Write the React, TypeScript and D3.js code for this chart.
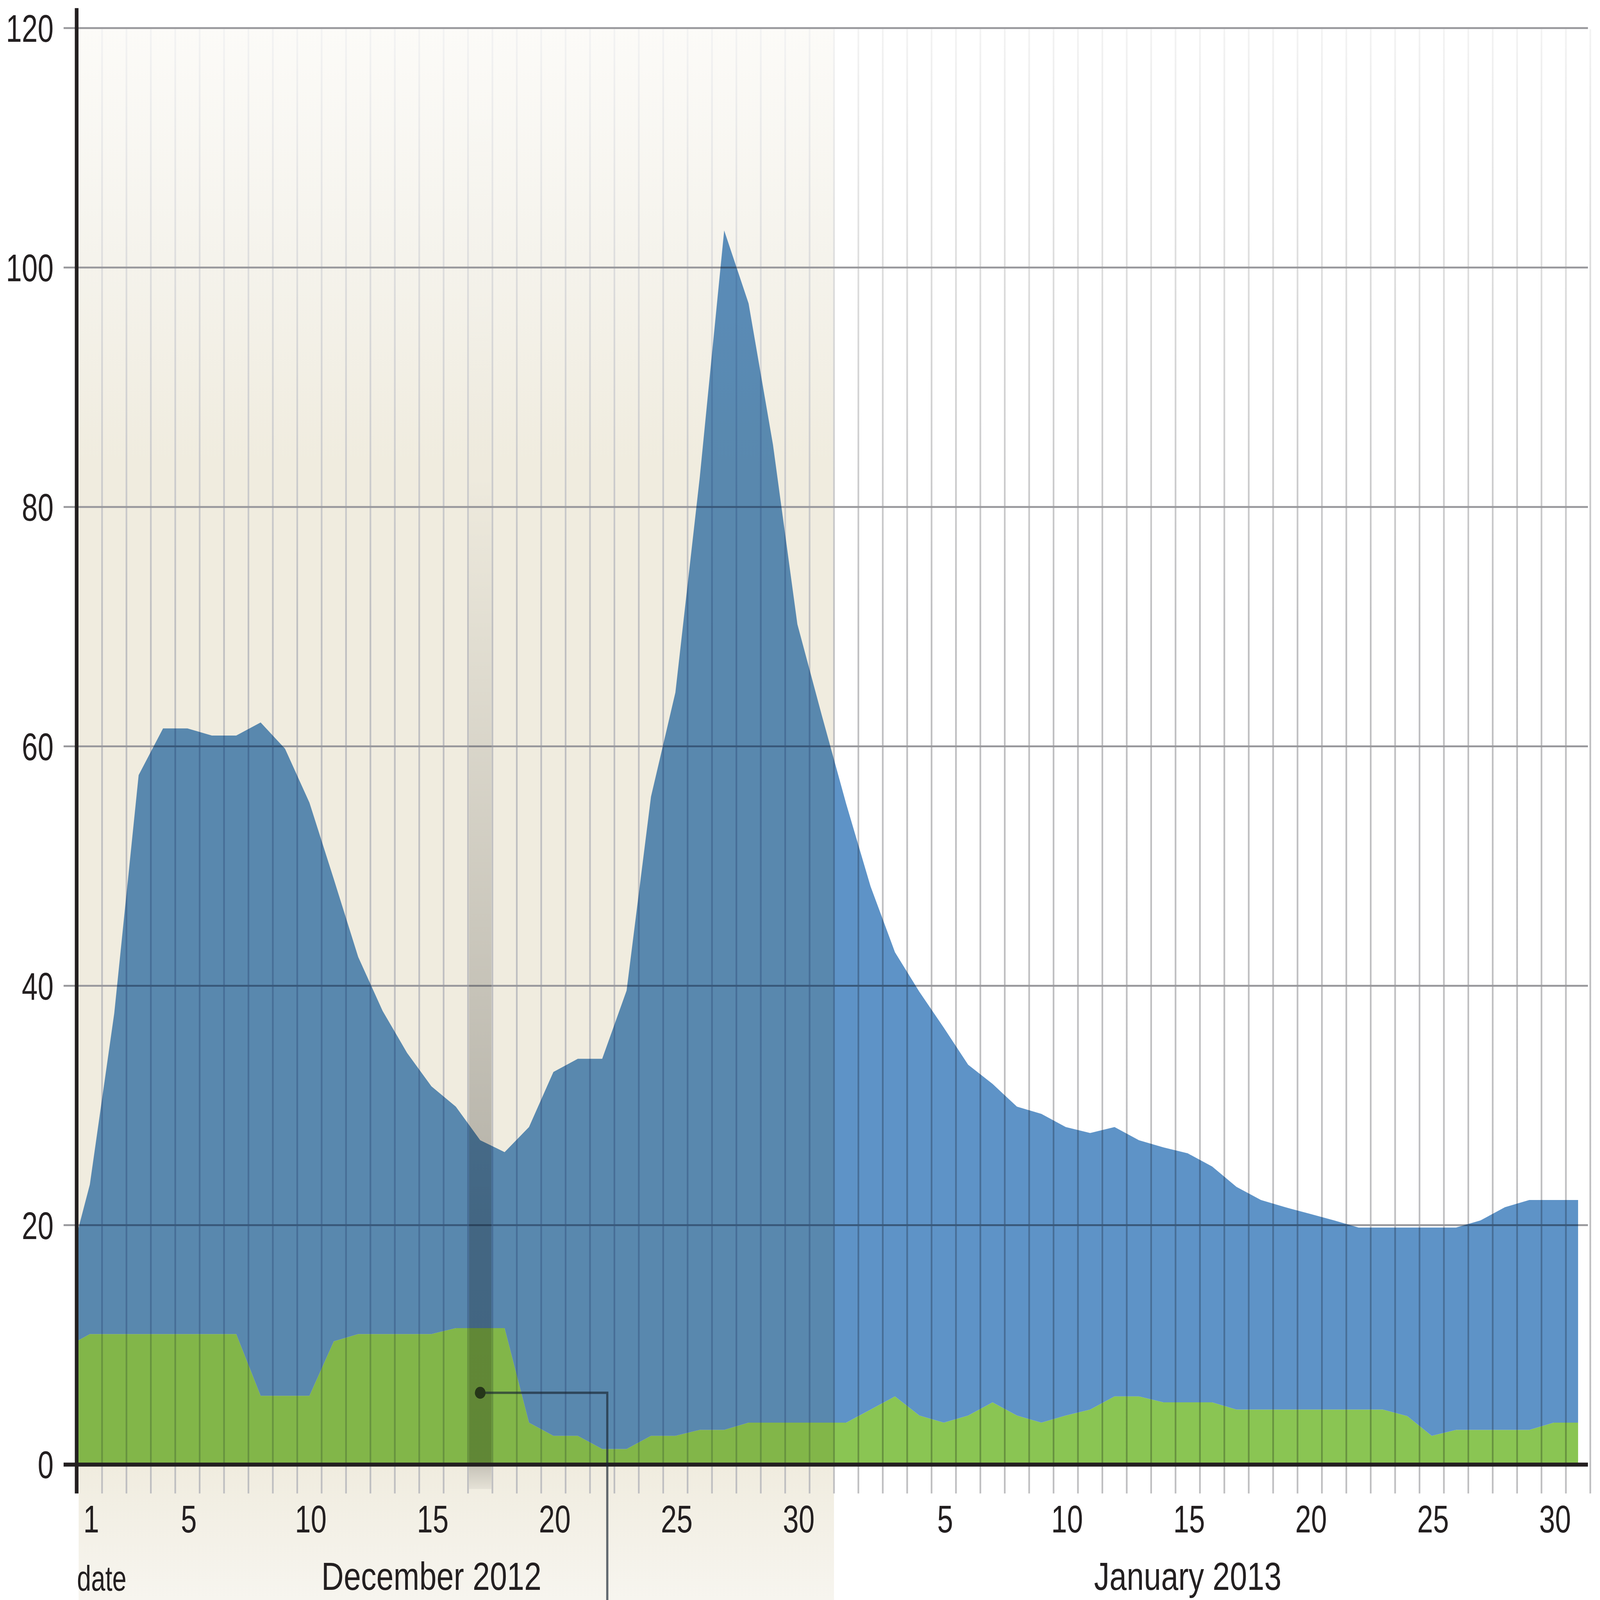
import { scaleUtc, scaleLinear, area as d3area, utcDay } from "d3";

const W = 4780;
const H = 4325;

// y axis ticks and date labels
const yTicks = [0, 20, 40, 60, 80, 100, 120];
const decLabels = [1, 5, 10, 15, 20, 25, 30];
const janLabels = [5, 10, 15, 20, 25, 30];
const months = [
  { label: "December 2012", year: 2012, month: 11 },
  { label: "January 2013", year: 2013, month: 0 },
];

// Nov 30 sits left of the axis, it only shapes the clipped first segment
const leadTotal = 15.6;
const leadGreen = 9.8;

// daily values, Dec 1 .. Dec 31 (top of the blue area)
const totalDec = [
  23.4, 37.7, 57.6, 61.5, 61.5, 60.9, 60.9, 62.0, 59.8, 55.3,
  48.9, 42.4, 37.9, 34.4, 31.6, 29.9, 27.1, 26.1, 28.2, 32.8,
  33.9, 33.9, 39.6, 55.8, 64.5, 82.5, 103.1, 97.0, 85.2, 70.2, 62.6,
];
// Jan 1 .. Jan 31
const totalJan = [
  55.2, 48.3, 42.8, 39.5, 36.5, 33.4, 31.8, 29.9, 29.3, 28.2,
  27.7, 28.2, 27.1, 26.5, 26.0, 24.9, 23.2, 22.1, 21.5, 20.95,
  20.4, 19.8, 19.8, 19.8, 19.8, 19.8, 20.4, 21.5, 22.1, 22.1, 22.1,
];
// green part
const greenDec = [
  10.9, 10.9, 10.9, 10.9, 10.9, 10.9, 10.9, 5.75, 5.75, 5.75,
  10.3, 10.9, 10.9, 10.9, 10.9, 11.4, 11.4, 11.4, 3.5, 2.4,
  2.4, 1.3, 1.3, 2.4, 2.4, 2.9, 2.9, 3.5, 3.5, 3.5, 3.5,
];
const greenJan = [
  3.5, 4.6, 5.7, 4.1, 3.5, 4.1, 5.2, 4.1, 3.5, 4.1,
  4.6, 5.7, 5.7, 5.2, 5.2, 5.2, 4.6, 4.6, 4.6, 4.6,
  4.6, 4.6, 4.6, 4.05, 2.4, 2.9, 2.9, 2.9, 2.9, 3.5, 3.5,
];

// highlighted day and the leader line
const highlightDay = new Date(Date.UTC(2012, 11, 17));
const markerDate = new Date(Date.UTC(2012, 11, 17, 12));
const markerValue = 6.0;
const leaderElbow = new Date(Date.UTC(2012, 11, 22, 17));

type Row = { date: Date; total: number; green: number };

const data: Row[] = [
  { date: new Date(Date.UTC(2012, 10, 30, 12)), total: leadTotal, green: leadGreen },
  ...totalDec.map((v, i) => ({ date: new Date(Date.UTC(2012, 11, i + 1, 12)), total: v, green: greenDec[i] })),
  ...totalJan.map((v, i) => ({ date: new Date(Date.UTC(2013, 0, i + 1, 12)), total: v, green: greenJan[i] })),
];

const start = new Date(Date.UTC(2012, 11, 1));
const end = new Date(Date.UTC(2013, 1, 1));
const decEnd = new Date(Date.UTC(2013, 0, 1));

const FONT = "'Liberation Sans', Arial, sans-serif";
const INK = "#231f20";

// condensed text: regular sans squeezed horizontally
function Narrow(props: {
  x: number;
  y: number;
  size: number;
  squeeze: number;
  anchor?: "start" | "middle" | "end";
  children: React.ReactNode;
}) {
  return (
    <g transform={`translate(${props.x},${props.y}) scale(${props.squeeze},1)`}>
      <text x={0} y={0} fontSize={props.size} textAnchor={props.anchor ?? "start"}>
        {props.children}
      </text>
    </g>
  );
}

export default function App() {
  const x = scaleUtc().domain([start, end]).range([232, 4751]);
  const y = scaleLinear().domain([0, 120]).range([3959, 76]);

  const top = y(120);
  const base = y(0);
  const tickBottom = 4037;
  const gridRight = 4744;

  const greenArea = d3area<Row>()
    .x((d) => x(d.date))
    .y0(base)
    .y1((d) => y(d.green));

  const blueArea = d3area<Row>()
    .x((d) => x(d.date))
    .y0((d) => y(d.green))
    .y1((d) => y(d.total));

  const dayLines = utcDay.range(utcDay.offset(start, 1), utcDay.offset(end, 1));

  const bandX0 = x(highlightDay);
  const bandX1 = x(utcDay.offset(highlightDay, 1));

  const mx = x(markerDate);
  const my = y(markerValue);
  const ex = x(leaderElbow);

  const labelAt = (yr: number, m: number, d: number) => x(new Date(Date.UTC(yr, m, d, 12)));

  return (
    <svg
      viewBox={`0 0 ${W} ${H}`}
      preserveAspectRatio="none"
      style={{ position: "fixed", left: 0, top: 0, width: "100vw", height: "100vh", display: "block", background: "#fff" }}
    >
      <defs>
        <linearGradient id="beige" gradientUnits="userSpaceOnUse" x1="0" x2="0" y1={top} y2={H}>
          <stop offset="0" stopColor="#fcfbf8" />
          <stop offset={(700 - top) / (H - top)} stopColor="#f5f3ec" />
          <stop offset={(1250 - top) / (H - top)} stopColor="#f0ecdf" />
          <stop offset={(base - top) / (H - top)} stopColor="#f0ecdf" />
          <stop offset="1" stopColor="#f7f5ef" />
        </linearGradient>
        <linearGradient id="vline" gradientUnits="userSpaceOnUse" x1="0" x2="0" y1={top} y2={1700}>
          <stop offset="0" stopColor="#f3f3f3" />
          <stop offset="0.45" stopColor="#dadada" />
          <stop offset="1" stopColor="#bfbfc1" />
        </linearGradient>
        <linearGradient id="band" gradientUnits="userSpaceOnUse" x1="0" x2="0" y1={top} y2={base}>
          <stop offset="0" stopColor="#000" stopOpacity="0" />
          <stop offset={(1300 - top) / (base - top)} stopColor="#000" stopOpacity="0.01" />
          <stop offset={(3300 - top) / (base - top)} stopColor="#000" stopOpacity="0.25" />
          <stop offset="1" stopColor="#000" stopOpacity="0.26" />
        </linearGradient>
        <linearGradient id="bandTail" gradientUnits="userSpaceOnUse" x1="0" x2="0" y1={base} y2={4025}>
          <stop offset="0" stopColor="#000" stopOpacity="0.18" />
          <stop offset="1" stopColor="#000" stopOpacity="0.05" />
        </linearGradient>
        <clipPath id="plot">
          <rect x={x(start)} y={0} width={x(end) - x(start)} height={base} />
        </clipPath>
      </defs>

      <rect x={0} y={0} width={W} height={H} fill="#fff" />

      {/* December shading */}
      <rect x={x(start) + 3} y={top} width={x(decEnd) - x(start) - 3} height={H - top} fill="url(#beige)" />

      {/* day grid lines with ticks below the axis */}
      {dayLines.map((d, i) => (
        <line
          key={i}
          x1={x(d)}
          x2={x(d)}
          y1={top + 3}
          y2={tickBottom}
          stroke="url(#vline)"
          strokeWidth={5}
        />
      ))}

      {/* horizontal grid */}
      {yTicks.filter((t) => t > 0).map((t) => (
        <line key={t} x1={190} x2={gridRight} y1={y(t)} y2={y(t)} stroke="#98989c" strokeWidth={5} />
      ))}

      {/* areas */}
      <g clipPath="url(#plot)" style={{ mixBlendMode: "multiply" }}>
        <path d={greenArea(data) ?? undefined} fill="#8ac553" />
        <path d={blueArea(data) ?? undefined} fill="#5e93c7" />
      </g>

      {/* highlighted day */}
      <rect x={bandX0 + 3} y={top} width={bandX1 - bandX0 - 6} height={base - top} fill="url(#band)" />
      <rect x={bandX0 + 3} y={base} width={bandX1 - bandX0 - 6} height={4025 - base} fill="url(#bandTail)" />

      {/* axes */}
      <line x1={190} x2={gridRight} y1={base} y2={base} stroke={INK} strokeWidth={11} />
      <line x1={229} x2={229} y1={22} y2={tickBottom} stroke={INK} strokeWidth={11} />

      {/* leader */}
      <path
        d={`M${mx},${my}H${ex}V${H}`}
        fill="none"
        stroke="#1b2633"
        strokeOpacity={0.68}
        strokeWidth={6.5}
      />
      <circle cx={mx} cy={my} r={16} fill="#263619" />

      {/* labels */}
      <g fontFamily={FONT} fill={INK}>
        {yTicks.map((t) => (
          <Narrow key={t} x={160} y={y(t) + 37} size={104} squeeze={0.82} anchor="end">
            {t}
          </Narrow>
        ))}
        {decLabels.map((d) => (
          <Narrow key={"d" + d} x={labelAt(2012, 11, d) + 4} y={4142} size={104} squeeze={0.82} anchor="middle">
            {d}
          </Narrow>
        ))}
        {janLabels.map((d) => (
          <Narrow key={"j" + d} x={labelAt(2013, 0, d) + 4} y={4142} size={104} squeeze={0.82} anchor="middle">
            {d}
          </Narrow>
        ))}
        {months.map((m) => (
          <Narrow key={m.label} x={labelAt(m.year, m.month, 15)} y={4298} size={105} squeeze={0.88} anchor="middle">
            {m.label}
          </Narrow>
        ))}
        <Narrow x={230} y={4300} size={95} squeeze={0.8}>
          date
        </Narrow>
      </g>
    </svg>
  );
}
